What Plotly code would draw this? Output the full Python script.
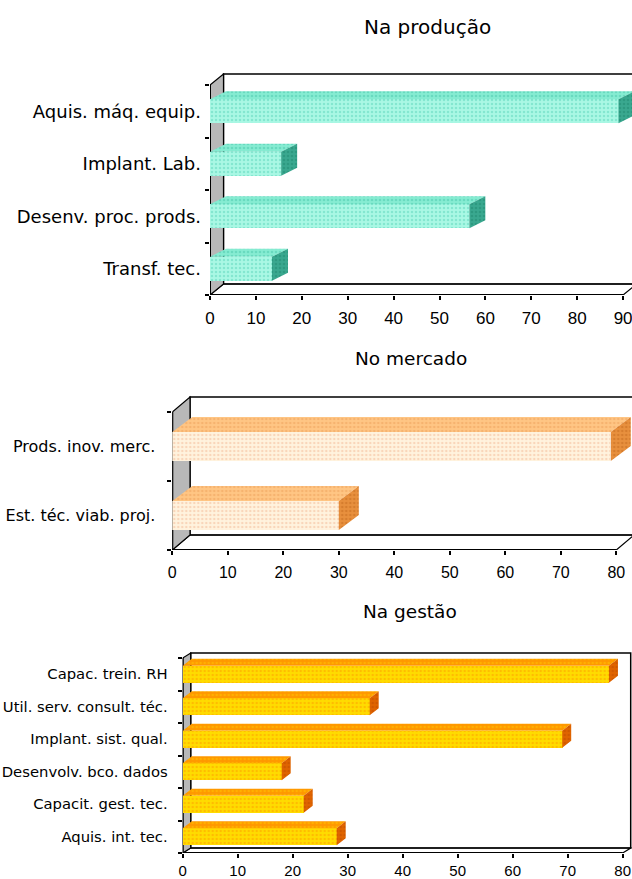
import plotly.graph_objects as go

# ---- data ----
prod_title = "Na produção"
prod_cats = ["Aquis. máq. equip.", "Implant. Lab.", "Desenv. proc. prods.", "Transf. tec."]
prod_vals = [89, 15.5, 56.5, 13.5]
prod_ticks = [0, 10, 20, 30, 40, 50, 60, 70, 80, 90]

merc_title = "No mercado"
merc_cats = ["Prods. inov. merc.", "Est. téc. viab. proj."]
merc_vals = [79, 30]
merc_ticks = [0, 10, 20, 30, 40, 50, 60, 70, 80]

gest_title = "Na gestão"
gest_cats = ["Capac. trein. RH", "Util. serv. consult. téc.", "Implant. sist. qual.",
             "Desenvolv. bco. dados", "Capacit. gest. tec.", "Aquis. int. tec."]
gest_vals = [77.5, 34, 69, 18, 22, 28]
gest_ticks = [0, 10, 20, 30, 40, 50, 60, 70, 80]

W, H = 632, 879
FONT = "DejaVu Sans"
NUM_FONT = "Liberation Sans Narrow, Liberation Sans"

# panel geometry (pixels) and face colours
panels = [
    dict(title=prod_title, cats=prod_cats, vals=prod_vals, ticks=prod_ticks,
         x0=210, ppu=4.59, ybot=295, pitch=52.5, wdx=13.5, wdy=11, bdx=16, bdy=8, bh=24,
         lab=18, tick=17, standoff=8, tstand=4, tsize=20, title_x=427, title_y=27,
         front=("#aaf8e4", "#5ed6bc"), top=("#86ecd2", "#4cc8ac"), side=("#3aa88f", "#1f8a72")),
    dict(title=merc_title, cats=merc_cats, vals=merc_vals, ticks=merc_ticks,
         x0=172.3, ppu=5.55, ybot=550, pitch=69, wdx=17.7, wdy=15, bdx=20, bdy=15, bh=29,
         lab=16, tick=16, standoff=16, tstand=4, tsize=18.5, title_x=411, title_y=358,
         front=("#fff3de", "#f2b895"), top=("#ffc684", "#ee9f5a"), side=("#e8903e", "#c4691e")),
    dict(title=gest_title, cats=gest_cats, vals=gest_vals, ticks=gest_ticks,
         x0=182.7, ppu=5.5, ybot=853, pitch=32.5, wdx=8, wdy=5, bdx=9, bdy=7, bh=17,
         lab=14.8, tick=15, standoff=14, tstand=0, tsize=18.5, title_x=410, title_y=611,
         front=("#ffdc00", "#ff9c00"), top=("#ff9800", "#ffc800"), side=("#e06400", "#c04c00")),
]

fig = go.Figure()
shapes = []
annotations = []

for k, p in enumerate(panels):
    sfx = "" if k == 0 else str(k + 1)
    xa, ya = "x" + sfx, "y" + sfx
    n = len(p["cats"])
    pos = [n - 1 - i for i in range(n)]          # first category at the top
    xmax_tick = p["ticks"][-1]

    # depth offsets converted to data units
    wdx = p["wdx"] / p["ppu"]
    wdy = p["wdy"] / p["pitch"]
    bdx = p["bdx"] / p["ppu"]
    bdy = p["bdy"] / p["pitch"]
    bh = p["bh"] / p["pitch"]
    top = n - 0.5

    # bar top faces and end faces (polygons built from the values)
    tx, ty, sx, sy = [], [], [], []
    for c, v in zip(pos, p["vals"]):
        yt = c + bh / 2
        yb = c - bh / 2
        tx += [0, v, v + bdx, bdx, 0, None]
        ty += [yt, yt, yt + bdy, yt + bdy, yt, None]
        sx += [v, v + bdx, v + bdx, v, v, None]
        sy += [yb, yb + bdy, yt + bdy, yt, yb, None]

    fig.add_trace(go.Scatter(
        x=tx, y=ty, xaxis=xa, yaxis=ya, mode="lines", fill="toself",
        line=dict(width=0), fillcolor=p["top"][0], hoverinfo="skip", showlegend=False,
        fillpattern=dict(shape=".", fgcolor=p["top"][1], bgcolor=p["top"][0], size=4, solidity=0.35)))
    fig.add_trace(go.Scatter(
        x=sx, y=sy, xaxis=xa, yaxis=ya, mode="lines", fill="toself",
        line=dict(width=0), fillcolor=p["side"][0], hoverinfo="skip", showlegend=False,
        fillpattern=dict(shape=".", fgcolor=p["side"][1], bgcolor=p["side"][0], size=4, solidity=0.35)))

    # front faces
    fig.add_trace(go.Bar(
        x=p["vals"], y=pos, orientation="h", width=bh, xaxis=xa, yaxis=ya,
        marker=dict(color=p["front"][0], line=dict(width=0),
                    pattern=dict(shape=".", fgcolor=p["front"][1], bgcolor=p["front"][0],
                                 size=4, solidity=0.3)),
        showlegend=False, hoverinfo="x+y"))

    # walls, floor and frame
    ref = dict(xref=xa, yref=ya, layer="below")
    shapes.append(dict(type="path", **ref,
                       path=f"M 0,-0.5 L {xmax_tick},-0.5 L {xmax_tick + wdx},{-0.5 + wdy} L {wdx},{-0.5 + wdy} Z",
                       fillcolor="white", line=dict(color="black", width=1.2)))
    shapes.append(dict(type="rect", **ref, x0=wdx, x1=xmax_tick + wdx, y0=-0.5 + wdy, y1=top + wdy,
                       fillcolor="rgba(0,0,0,0)", line=dict(color="black", width=1.5)))
    shapes.append(dict(type="path", **ref,
                       path=f"M 0,-0.5 L {wdx},{-0.5 + wdy} L {wdx},{top + wdy} L 0,{top} Z",
                       fillcolor="#b8b8b8", line=dict(color="black", width=1.2)))
    shapes.append(dict(type="line", **ref, x0=0, x1=0, y0=-0.5, y1=top,
                       line=dict(color="black", width=2)))
    shapes.append(dict(type="line", **ref, x0=0, x1=xmax_tick, y0=-0.5, y1=-0.5,
                       line=dict(color="black", width=2)))

    # axes placement
    x_end = (W - p["x0"]) / p["ppu"]
    ytop_px = p["ybot"] - n * p["pitch"] - p["wdy"] - 4
    y_end = n - 0.5 + (p["wdy"] + 4) / p["pitch"]
    xdom = [p["x0"] / W, 1]
    ydom = [1 - p["ybot"] / H, 1 - ytop_px / H]

    fig.layout["xaxis" + sfx] = dict(
        domain=xdom, range=[0, x_end], anchor=ya, showgrid=False, zeroline=False,
        showline=False, tickmode="array", tickvals=p["ticks"], ticks="outside",
        ticklen=4, tickwidth=1.5, tickcolor="black", ticklabelstandoff=p["tstand"],
        ticklabeloverflow="allow", automargin=False,
        tickfont=dict(family=NUM_FONT, size=p["tick"], color="black"), fixedrange=True)
    fig.layout["yaxis" + sfx] = dict(
        domain=ydom, range=[-0.5, y_end], anchor=xa, showgrid=False, zeroline=False,
        showline=False, tickmode="array", tickvals=pos, ticktext=p["cats"], ticks="",
        ticklabelstandoff=p["standoff"], ticklabeloverflow="allow", automargin=False,
        minor=dict(tickmode="array", tickvals=[i - 0.5 for i in range(n + 1)],
                   ticks="outside", ticklen=4, tickwidth=1.5, tickcolor="black", showgrid=False),
        tickfont=dict(family=FONT, size=p["lab"], color="black"), fixedrange=True)

    annotations.append(dict(text=p["title"], xref="paper", yref="paper",
                            x=p["title_x"] / W, y=1 - p["title_y"] / H,
                            xanchor="center", yanchor="middle", showarrow=False,
                            font=dict(family=FONT, size=p["tsize"], color="black")))

fig.update_layout(
    width=W, height=H, margin=dict(l=0, r=0, t=0, b=0),
    paper_bgcolor="white", plot_bgcolor="white",
    shapes=shapes, annotations=annotations, bargap=0, barmode="overlay",
)

fig.write_html("out.html")
